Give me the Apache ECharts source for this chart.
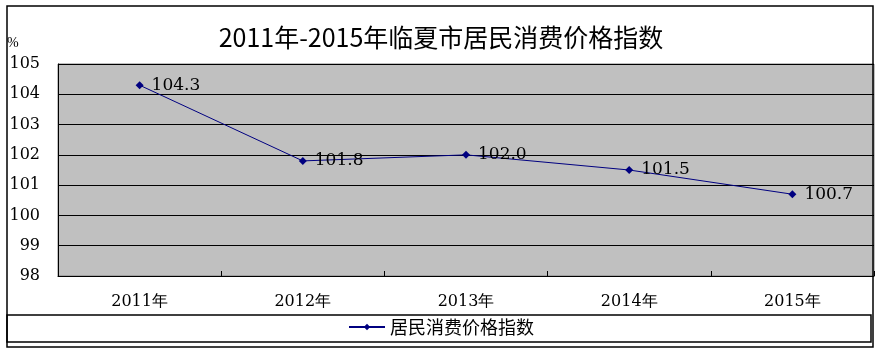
<!DOCTYPE html>
<html>
<head>
<meta charset="utf-8">
<script src="https://cdn.jsdelivr.net/npm/echarts@6/dist/echarts.min.js"></script>
<style>
html,body{margin:0;padding:0;background:#fff;}
#main{width:882px;height:354px;}
</style>
</head>
<body>
<div id="main"></div>
<script>
var years = ["2011年", "2012年", "2013年", "2014年", "2015年"];
var cpiValues = [104.3, 101.8, 102.0, 101.5, 100.7];
var seriesName = "居民消费价格指数";
var titleText = "2011年-2015年临夏市居民消费价格指数";

var chart = echarts.init(document.getElementById("main"));
chart.setOption({
    animation: false,
    backgroundColor: "#fff",
    title: {
        text: titleText,
        left: "center",
        top: 20,
        textStyle: {
            fontFamily: "Noto Sans CJK SC",
            fontSize: 25,
            fontWeight: "normal",
            color: "#000"
        }
    },
    legend: {
        bottom: 13,
        left: "center",
        itemWidth: 36,
        itemHeight: 8,
        itemGap: 6,
        data: [seriesName],
        textStyle: {
            fontFamily: "Noto Sans CJK SC",
            fontSize: 18,
            color: "#000"
        }
    },
    grid: {
        show: true,
        left: 58,
        top: 64,
        right: 8,
        bottom: 78,
        backgroundColor: "#c0c0c0",
        borderColor: "#808080",
        borderWidth: 1
    },
    xAxis: {
        type: "category",
        data: years,
        boundaryGap: true,
        axisLine: {lineStyle: {color: "#000", width: 1}},
        axisTick: {show: true, inside: true, length: 5, lineStyle: {color: "#000"}},
        axisLabel: {
            margin: 18,
            fontFamily: "DejaVu Serif",
            fontSize: 16,
            color: "#000"
        }
    },
    yAxis: {
        type: "value",
        min: 98,
        max: 105,
        interval: 1,
        name: "%",
        nameLocation: "end",
        nameGap: 14,
        nameTextStyle: {
            fontFamily: "Liberation Serif",
            fontSize: 14,
            color: "#000",
            align: "left",
            padding: [0, 0, 0, -51]
        },
        axisLine: {show: true, lineStyle: {color: "#000", width: 1}},
        axisTick: {show: false},
        splitLine: {show: true, lineStyle: {color: "#000", width: 1}},
        axisLabel: {
            margin: 18,
            fontFamily: "DejaVu Serif",
            fontSize: 16,
            color: "#000"
        }
    },
    series: [{
        name: seriesName,
        type: "line",
        data: cpiValues,
        symbol: "diamond",
        symbolSize: 8,
        showSymbol: true,
        lineStyle: {color: "#000080", width: 1},
        itemStyle: {color: "#000080"},
        label: {
            show: true,
            position: "right",
            distance: 8,
            fontFamily: "DejaVu Serif",
            fontSize: 17,
            color: "#000",
            formatter: function (p) { return p.value.toFixed(1); }
        }
    }],
    graphic: [{
        type: "rect",
        shape: {x: 7, y: 6, width: 866, height: 341},
        style: {fill: null, stroke: "#000", lineWidth: 1.5},
        silent: true
    }, {
        type: "rect",
        shape: {x: 7, y: 315, width: 864, height: 27},
        style: {fill: null, stroke: "#000", lineWidth: 1.5},
        silent: true
    }]
});
</script>
</body>
</html>
